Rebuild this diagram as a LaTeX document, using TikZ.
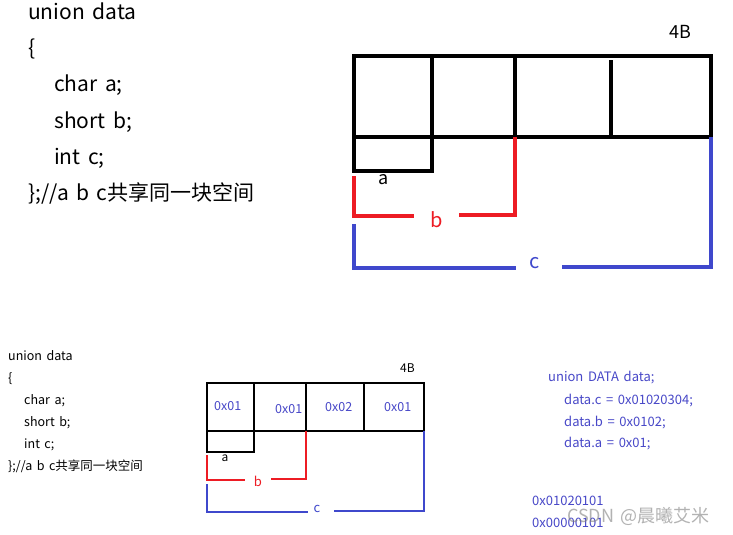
\documentclass[tikz,border=0pt]{standalone}
\usepackage{fontspec}
\setmainfont{Noto Sans CJK SC}[WordSpace=1.6]
\definecolor{memred}{RGB}{237,28,36}
\definecolor{memblue}{RGB}{63,72,204}
\definecolor{codeblue}{RGB}{72,72,200}
\tikzset{
  bigline/.style={line width=4pt,line cap=rect},
  smallline/.style={line width=2.6pt,line cap=rect},
  code/.style={anchor=base west,inner sep=0pt},
}
\begin{document}
\begin{tikzpicture}[x=1pt,y=-1pt]
  \useasboundingbox[fill=white] (0,0) rectangle (733,535);

  % code, large
  \begin{scope}[font=\fontsize{21}{21}\selectfont]
    \node[code] (u1) at (28,20) {union data};
    \node[code] (o1) at (28,56) {\{};
    \node[code] (ca1) at (54,92) {char a;};
    \node[code] (sb1) at (54,128) {short b;};
    \node[code] (ic1) at (54,164) {int c;};
    \node[code] (cl1) at (28,200) {\};//a b c共享同一块空间};
  \end{scope}

  % memory, large
  \draw[bigline] (354,56) rectangle (711,137);
  \draw[bigline] (432,56) -- (432,171) -- (354,171) -- (354,137);
  \draw[bigline] (515,56) -- (515,137);
  \draw[bigline] (611,62) -- (611,135);
  \node[code,font=\fontsize{18}{18}\selectfont] (B1) at (669,38) {4B};
  \node[anchor=base,inner sep=0pt,font=\fontsize{18}{18}\selectfont] (a1) at (384,184) {a};
  \node[anchor=base,inner sep=0pt,memred,font=\fontsize{20}{20}\selectfont] (b1) at (437,227) {b};
  \node[anchor=base,inner sep=0pt,memblue,font=\fontsize{20}{20}\selectfont] (c1) at (535,268) {c};
  \draw[memred,line width=3.5pt] (354,176) -- (354,216) -- (414,216);
  \draw[memred,line width=3.5pt] (459,215) -- (515,215) -- (515,137);
  \draw[memblue,line width=3.5pt] (354,224) -- (354,268) -- (516,268);
  \draw[memblue,line width=3.5pt] (562,267) -- (711,267) -- (711,137);

  % code, small
  \begin{scope}[font=\fontsize{12.5}{12.5}\selectfont]
    \node[code] (u2) at (8,360) {union data};
    \node[code] (o2) at (8,382) {\{};
    \node[code] (ca2) at (24,404) {char a;};
    \node[code] (sb2) at (24,426) {short b;};
    \node[code] (ic2) at (24,448) {int c;};
    \node[code] (cl2) at (8,470) {\};//a b c共享同一块空间};
  \end{scope}

  % memory, small
  \draw[smallline] (207,383) rectangle (424,431);
  \draw[smallline] (254,383) -- (254,452) -- (207,452) -- (207,431);
  \draw[smallline] (306,383) -- (306,431);
  \draw[smallline] (364,385) -- (364,430);
  \begin{scope}[font=\fontsize{12.5}{12.5}\selectfont,codeblue]
    \node[code] (v1) at (214,410) {0x01};
    \node[code] (v2) at (275,413) {0x01};
    \node[code] (v3) at (325,411) {0x02};
    \node[code] (v4) at (384,411) {0x01};
  \end{scope}
  \node[code,font=\fontsize{12}{12}\selectfont] (B2) at (400,372) {4B};
  \node[anchor=base,inner sep=0pt,font=\fontsize{12}{12}\selectfont] (a2) at (225,461) {a};
  \node[anchor=base,inner sep=0pt,memred,font=\fontsize{13}{13}\selectfont] (b2) at (258,486) {b};
  \node[anchor=base,inner sep=0pt,memblue,font=\fontsize{13}{13}\selectfont] (c2) at (317,512) {c};
  \draw[memred,line width=2.6pt] (207,455) -- (207,480) -- (245,480);
  \draw[memred,line width=2.6pt] (271,479) -- (306,479) -- (306,431);
  \draw[memblue,line width=2.6pt] (207,484) -- (207,512) -- (308,512);
  \draw[memblue,line width=2.6pt] (334,511) -- (424,511) -- (424,431);

  % assignments
  \begin{scope}[font=\fontsize{13}{13}\selectfont,codeblue]
    \node[code] (d0) at (548,381) {union DATA data;};
    \node[code] (dc) at (564,404) {data.c = 0x01020304;};
    \node[code] (db) at (564,426) {data.b = 0x0102;};
    \node[code] (da) at (564,447) {data.a = 0x01;};
    \node[code] (r1) at (532,505) {0x01020101};
    \node[code] (r2) at (532,527) {0x00000101};
  \end{scope}
  \node[code,gray,opacity=0.6,font=\fontsize{18}{18}\selectfont] (wm) at (567,522) {CSDN @晨曦艾米};
\end{tikzpicture}
\end{document}
